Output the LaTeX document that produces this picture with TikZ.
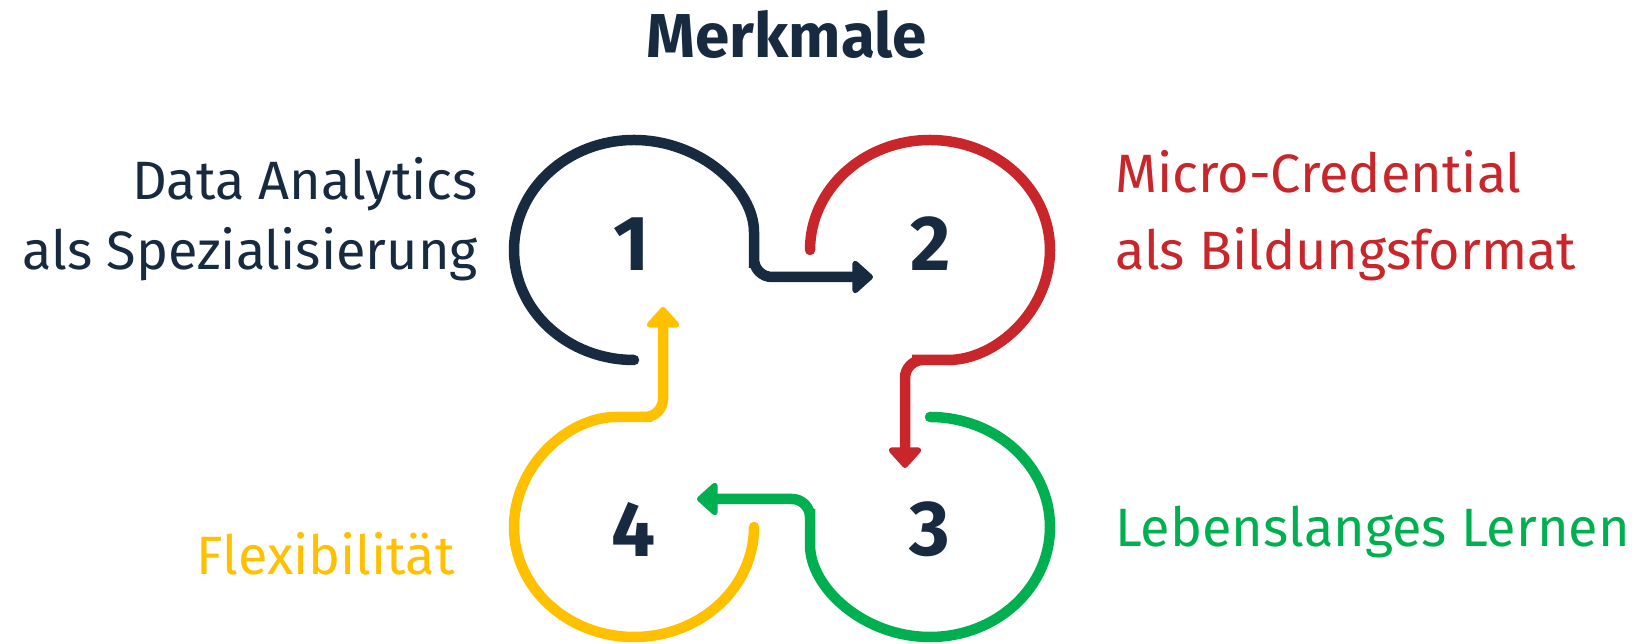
\documentclass[tikz,border=0pt]{standalone}
\usepackage{fontspec}
\setmainfont{Fira Sans}
\usetikzlibrary{arrows.meta,positioning}
\definecolor{navy}{HTML}{172A40}
\definecolor{cred}{HTML}{C8262A}
\definecolor{cgreen}{HTML}{00B050}
\definecolor{cyellow}{HTML}{FFC000}

\begin{document}
\begin{tikzpicture}[x=1pt, y=1pt,
	loop/.style={line width=10.5pt, line cap=round, rounded corners=18pt, -{Triangle[round,width=38pt,length=22pt]}},
	num/.style={font=\fontsize{78}{78}\selectfont\bfseries, text=navy, inner sep=0pt},
	lbl/.style={font=\fontsize{54}{70}\selectfont, inner sep=0pt}]
	\useasboundingbox (0,0) rectangle (1649,644);
	% centres of the loops and ends of the arrows
	\coordinate (c1) at (634,394);
	\coordinate (c2) at (930,394);
	\coordinate (c3) at (930,117);
	\coordinate (c4) at (634,117);
	\coordinate (t1) at (873,367);
	\coordinate (t2) at (905,176);
	\coordinate (t3) at (697,145);
	\coordinate (t4) at (663,337);
	\draw [loop, navy] ([yshift=-110pt]c1) arc[start angle=270, end angle=0, x radius=120, y radius=110] -- ++(0,-27) -- (t1);
	\draw [loop, cred] ([xshift=-120pt]c2) arc[start angle=180, end angle=-90, x radius=120, y radius=110] -- ++(-25,0) -- (t2);
	\draw [loop, cgreen] ([yshift=110pt]c3) arc[start angle=90, end angle=-180, x radius=120, y radius=110] -- ++(0,28) -- (t3);
	\draw [loop, cyellow] ([xshift=120pt]c4) arc[start angle=0, end angle=-270, x radius=120, y radius=110] -- ++(29,0) -- (t4);
	\node [num] (n1) at (632,400) {1};
	\node [num] (n2) at (931,400) {2};
	\node [num] (n3) at (930,115) {3};
	\node [num] (n4) at (634,115) {4};
	\node [font=\fontsize{62}{62}\selectfont\bfseries, text=navy, anchor=base] (title) at (787,586) {Merkmale};
	\node [lbl, text=navy, align=right, anchor=base east] (l1) at (478,374) {Data Analytics\\als Spezialisierung};
	\node [lbl, text=cred, align=left, anchor=base west, font=\fontsize{54}{77}\selectfont] (l2) at (1115,374) {Micro-Credential\\als Bildungsformat};
	\node [lbl, text=cgreen, anchor=base west] (l3) at (1115,97) {Lebenslanges Lernen};
	\node [lbl, text=cyellow, anchor=base east] (l4) at (455,69) {Flexibilität};
\end{tikzpicture}
\end{document}
